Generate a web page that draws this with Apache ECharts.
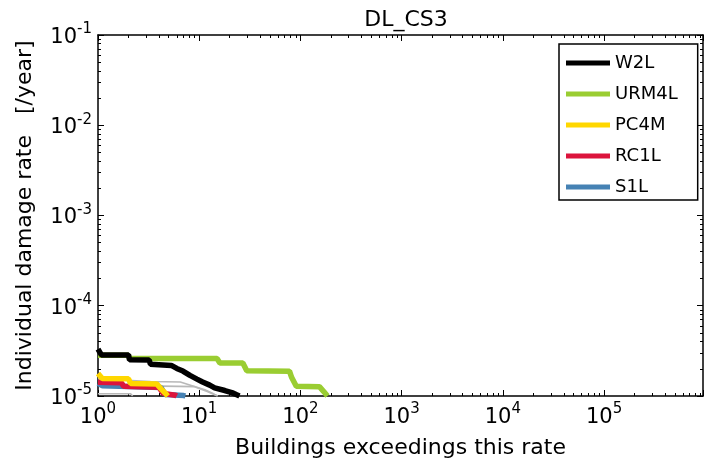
<!DOCTYPE html>
<html>
<head>
<meta charset="utf-8">
<script src="https://cdn.jsdelivr.net/npm/echarts@6/dist/echarts.min.js"></script>
<style>
html,body{margin:0;padding:0;background:#fff;}
#chart{width:706px;height:466px;}
</style>
</head>
<body>
<div id="chart"></div>
<script>
// ---- data ----
const chartTitle = 'DL_CS3';
const xAxisTitle = 'Buildings exceedings this rate';
const yAxisTitle = 'Individual damage rate   [/year]';
const xTickExps = [0, 1, 2, 3, 4, 5];
const yTickExps = [-5, -4, -3, -2, -1];
const seriesNames = ['W2L', 'URM4L', 'PC4M', 'RC1L', 'S1L'];

const w2lX = [1, 1.08, 2, 2.05, 3.2, 3.3, 5.3, 6.0, 6.9, 8.1, 9.5, 10.8, 12.7, 14.2, 17.9, 21, 23.5, 25];
const w2lY = [3.3e-5, 2.85e-5, 2.85e-5, 2.52e-5, 2.5e-5, 2.25e-5, 2.18e-5, 2.02e-5, 1.89e-5, 1.69e-5, 1.54e-5, 1.43e-5, 1.32e-5, 1.23e-5, 1.15e-5, 1.09e-5, 1.03e-5, 1.0e-5];

const urm4lX = [1, 2, 2.05, 15, 16, 27, 29.5, 78, 82, 91, 154, 170, 185];
const urm4lY = [2.82e-5, 2.82e-5, 2.6e-5, 2.6e-5, 2.32e-5, 2.32e-5, 1.9e-5, 1.88e-5, 1.6e-5, 1.28e-5, 1.27e-5, 1.12e-5, 1.0e-5];

const pc4mX = [1, 1.1, 2, 2.1, 3.8, 4.2, 4.6, 4.9];
const pc4mY = [1.78e-5, 1.56e-5, 1.55e-5, 1.38e-5, 1.36e-5, 1.2e-5, 1.08e-5, 1.0e-5];

const rc1lX = [1, 1.7, 1.8, 4.0, 4.4, 5.8, 6.0];
const rc1lY = [1.42e-5, 1.4e-5, 1.28e-5, 1.25e-5, 1.07e-5, 1.02e-5, 1.0e-5];

const s1lX = [1, 1.1, 4.2, 4.6, 7.0, 7.3];
const s1lY = [1.38e-5, 1.3e-5, 1.24e-5, 1.04e-5, 1.01e-5, 1.0e-5];

// other (unlabelled) building types, light grey
const other1X = [1, 2.1, 2.2];
const other1Y = [1.06e-5, 1.06e-5, 1.0e-5];
const other2X = [1, 3.3, 6.5, 8.5, 11.4, 14, 15.2];
const other2Y = [1.55e-5, 1.45e-5, 1.43e-5, 1.3e-5, 1.17e-5, 1.05e-5, 1.0e-5];
const other3X = [1, 9.0, 12, 15.2];
const other3Y = [1.32e-5, 1.27e-5, 1.12e-5, 1.0e-5];

// ---- styles ----
const colors = {W2L: '#000000', URM4L: '#9acd32', PC4M: '#ffd700', RC1L: '#dc143c', S1L: '#4682b4'};
const FONT = 'DejaVu Sans';

function zip(xs, ys) { return xs.map((x, i) => [x, ys[i]]); }

const named = {
  W2L: zip(w2lX, w2lY),
  URM4L: zip(urm4lX, urm4lY),
  PC4M: zip(pc4mX, pc4mY),
  RC1L: zip(rc1lX, rc1lY),
  S1L: zip(s1lX, s1lY)
};
const greys = [zip(other1X, other1Y), zip(other2X, other2Y), zip(other3X, other3Y)];

const series = [];
greys.forEach((d) => {
  series.push({
    type: 'line', data: d, showSymbol: false, silent: true, clip: true,
    lineStyle: {color: '#b8b8b8', width: 1.6}, itemStyle: {color: '#b8b8b8'}
  });
});
seriesNames.slice().reverse().forEach((n) => {
  series.push({
    name: n, type: 'line', data: named[n], showSymbol: false, clip: true,
    lineStyle: {color: colors[n], width: 5.5}, itemStyle: {color: colors[n]}
  });
});

function expLabel(list) {
  return function (v) {
    const e = Math.round(Math.log10(v));
    if (!list.includes(e) || Math.abs(Math.log10(v) - e) > 1e-6) return '';
    return '{b|10}{s|' + e + '}';
  };
}
const rich = {
  b: {fontSize: 21, fontFamily: FONT, color: '#000', lineHeight: 26, verticalAlign: 'bottom'},
  s: {fontSize: 15, fontFamily: FONT, color: '#000', lineHeight: 15, verticalAlign: 'top'}
};

const baseTick = {show: true, inside: true, length: 6, lineStyle: {color: '#000', width: 1}};
const minorTick = {show: true, splitNumber: 9, length: 3, lineStyle: {color: '#000', width: 1}};
const axLine = {show: true, onZero: false, lineStyle: {color: '#000', width: 1.5}};

const option = {
  animation: false,
  backgroundColor: '#fff',
  title: {
    text: chartTitle, left: 401, top: 4, textAlign: 'center',
    textStyle: {fontFamily: FONT, fontSize: 22, fontWeight: 'normal', color: '#000'}
  },
  grid: {left: 98, right: 2, top: 35, bottom: 70, containLabel: false},
  legend: {
    data: seriesNames, orient: 'vertical', left: 559, top: 44,
    icon: 'rect', itemWidth: 44, itemHeight: 5, itemGap: 9,
    padding: [8, 20, 2, 7],
    borderColor: '#000', borderWidth: 1.5, backgroundColor: '#fff',
    textStyle: {fontFamily: FONT, fontSize: 18, color: '#000', lineHeight: 22}
  },
  xAxis: [{
    type: 'log', logBase: 10, min: 1, max: 950000, position: 'bottom',
    name: xAxisTitle, nameLocation: 'middle', nameGap: 41,
    nameTextStyle: {fontFamily: FONT, fontSize: 22, color: '#000'},
    axisLine: axLine, axisTick: baseTick, minorTick: minorTick, splitLine: {show: false},
    axisLabel: {formatter: expLabel(xTickExps), rich: rich, margin: 6}
  }, {
    type: 'log', logBase: 10, min: 1, max: 950000, position: 'top',
    axisLine: axLine, axisTick: baseTick, minorTick: minorTick, splitLine: {show: false},
    axisLabel: {show: false}
  }],
  yAxis: [{
    type: 'log', logBase: 10, min: 1e-5, max: 1e-1, position: 'left',
    name: yAxisTitle, nameLocation: 'middle', nameGap: 62,
    nameTextStyle: {fontFamily: FONT, fontSize: 22, color: '#000'},
    axisLine: axLine, axisTick: baseTick, minorTick: minorTick, splitLine: {show: false},
    axisLabel: {formatter: expLabel(yTickExps), rich: rich, margin: 6}
  }, {
    type: 'log', logBase: 10, min: 1e-5, max: 1e-1, position: 'right',
    axisLine: axLine, axisTick: baseTick, minorTick: minorTick, splitLine: {show: false},
    axisLabel: {show: false}
  }],
  series: series
};

const chart = echarts.init(document.getElementById('chart'), null, {renderer: 'canvas'});
chart.setOption(option);
</script>
</body>
</html>
